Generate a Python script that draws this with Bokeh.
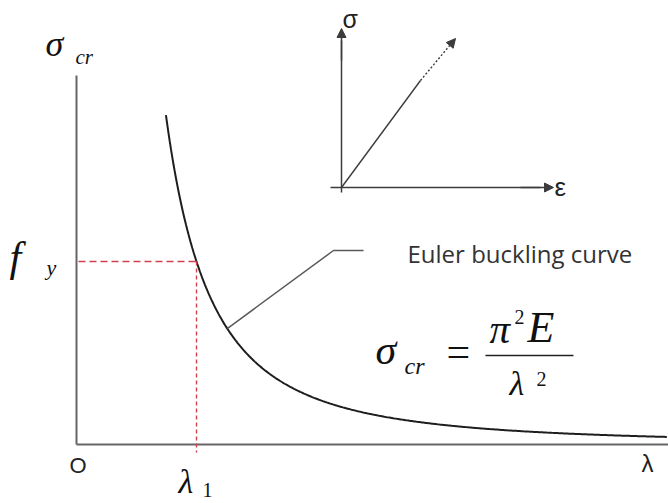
import numpy as np
from bokeh.plotting import figure
from bokeh.models import Label, Arrow, NormalHead, Range1d, ColumnDataSource
from bokeh.embed import file_html
from bokeh.resources import INLINE

# --- Euler buckling data (steel) ---------------------------------------
E_MOD = 210000.0                      # Young's modulus, MPa
FY = 235.0                            # yield strength f_y, MPa
LAMBDA_1 = np.pi * np.sqrt(E_MOD / FY)  # slenderness where Euler curve meets f_y
LAMBDA_START = 70.0                   # first slenderness drawn on the curve
LAMBDA_END = 462.0                    # last slenderness drawn on the curve
LAMBDA_LEADER = 118.0                 # where the callout touches the curve

lam = np.linspace(LAMBDA_START, LAMBDA_END, 400)
sigma_cr = np.pi ** 2 * E_MOD / lam ** 2     # sigma_cr = pi^2 E / lambda^2

# --- layout ---------------------------------------------------------------
W, H = 668, 503
ORIGIN_PX = (76, 444)                 # pixel position of the (0, 0) corner
SX = 120.0 / LAMBDA_1                 # px per unit of slenderness
SY = 183.0 / FY                       # px per MPa


def dx(px):
    return (px - ORIGIN_PX[0]) / SX


def dy(py):
    return (ORIGIN_PX[1] - py) / SY


p = figure(width=W, height=H, output_backend="svg", toolbar_location=None,
           x_axis_type=None, y_axis_type=None, min_border=0,
           x_range=Range1d(dx(0), dx(W)), y_range=Range1d(dy(H), dy(0)))
p.grid.visible = False
p.outline_line_color = None
p.background_fill_color = "white"

AX = "#666666"
SERIF = "Liberation Serif"
SANS = "Liberation Sans"

# main axes
p.line([0, 0], [0, dy(75)], line_color=AX, line_width=2)
p.line([0, dx(W)], [0, 0], line_color=AX, line_width=2)

# Euler curve
src = ColumnDataSource(dict(lam=lam, sig=sigma_cr))
p.line("lam", "sig", source=src, line_color="#1e1e1e", line_width=2)

# f_y / lambda_1 guide lines
RED = "#d0404e"
p.line([dx(78), LAMBDA_1], [FY, FY], line_color=RED, line_width=1.4, line_dash="7 4")
p.line([LAMBDA_1, LAMBDA_1], [FY, dy(452)], line_color=RED, line_width=1.4, line_dash="4 3")

# callout to the curve
s_leader = np.pi ** 2 * E_MOD / LAMBDA_LEADER ** 2
p.line([LAMBDA_LEADER, dx(333), dx(363)], [s_leader, dy(250), dy(250)],
       line_color="#5a5a5a", line_width=1.5)
p.add_layout(Label(x=dx(407), y=dy(253), text="Euler buckling curve",
                   text_font="Open Sans", text_font_size="24px",
                   text_color="#333333", text_baseline="middle"))

# inset: linear elastic sigma-epsilon sketch
IN = "#3c3c3c"
o = (dx(341), dy(187))
p.line([o[0], o[0]], [dy(192), dy(40)], line_color=IN, line_width=1.5)
p.add_layout(Arrow(x_start=o[0], y_start=dy(60), x_end=o[0], y_end=dy(28),
                   line_color=IN, line_width=1.5,
                   end=NormalHead(size=9, fill_color=IN, line_color=IN)))
p.line([dx(330), dx(540)], [o[1], o[1]], line_color=IN, line_width=1.5)
p.add_layout(Arrow(x_start=dx(520), y_start=o[1], x_end=dx(553), y_end=o[1],
                   line_color=IN, line_width=1.5,
                   end=NormalHead(size=9, fill_color=IN, line_color=IN)))
p.line([o[0], dx(420)], [o[1], dy(80)], line_color=IN, line_width=1.4)
p.add_layout(Arrow(x_start=dx(420), y_start=dy(80), x_end=dx(455), y_end=dy(38),
                   line_color=IN, line_width=1.4, line_dash="2 2",
                   end=NormalHead(size=9, fill_color=IN, line_color=IN)))


def lab(px, py_mid, text, size, italic=True, font=SERIF, color="#111111"):
    p.add_layout(Label(x=dx(px), y=dy(py_mid), text=text, text_font=font,
                       text_font_size=f"{size}px",
                       text_font_style="italic" if italic else "normal",
                       text_align="left", text_baseline="middle",
                       text_color=color))


# inset axis names
lab(342, 18, "σ", 25, italic=False, font=SANS, color="#222222")
lab(554, 186, "ε", 26, italic=False, font=SANS, color="#222222")

# axis labels
lab(45, 43, "σ", 36)
lab(75, 56, "cr", 21)
lab(9, 256, "f", 42)
lab(46, 267, "y", 22)
lab(69, 465, "O", 22, italic=False, font=SANS, color="#222222")
lab(178, 481, "λ", 34)
lab(202, 489, "1", 20, italic=False)
lab(641, 463, "λ", 24, italic=False, font=SANS, color="#222222")

# formula sigma_cr = pi^2 E / lambda^2
lab(375, 349, "σ", 42)
lab(404, 365, "cr", 24)
lab(446, 351, "=", 42, italic=False)
p.line([dx(485), dx(573)], [dy(355), dy(355)], line_color="#222222", line_width=1.6)
lab(489, 328, "π", 41)
lab(514, 316, "2", 20, italic=False)
lab(527, 327, "E", 44)
lab(509, 383, "λ", 34)
lab(536, 378, "2", 20, italic=False)

open("out.html", "w").write(file_html(p, INLINE))
